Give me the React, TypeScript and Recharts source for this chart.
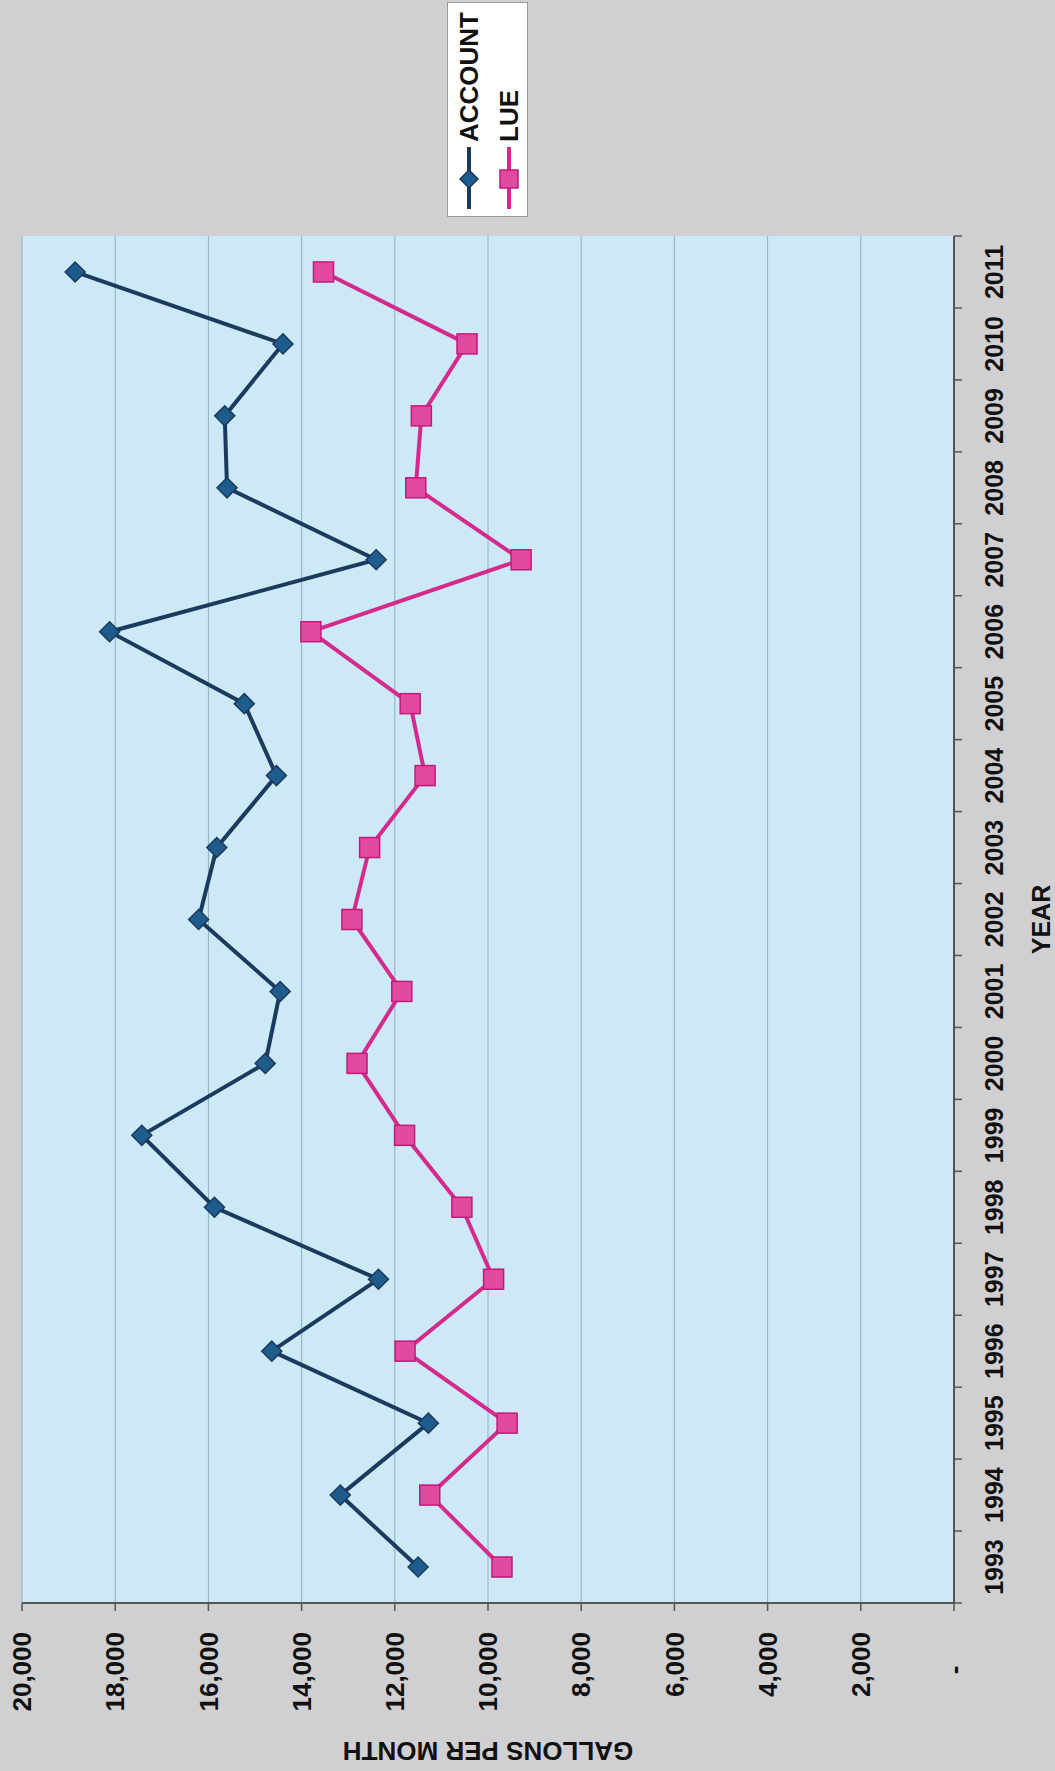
import React from 'react';
import { LineChart, Line, XAxis, YAxis, CartesianGrid, Label } from 'recharts';

// ---- data ----
const YEARS = ['1993','1994','1995','1996','1997','1998','1999','2000','2001','2002','2003','2004','2005','2006','2007','2008','2009','2010','2011'];
const ACCOUNT = [11500,13170,11280,14640,12350,15870,17430,14780,14460,16210,15820,14540,15230,18120,12400,15600,15650,14400,18860];
const LUE = [9700,11250,9590,11780,9880,10560,11790,12810,11850,12920,12540,11350,11670,13800,9290,11550,11430,10450,13530];
const Y_TICKS = [0,2000,4000,6000,8000,10000,12000,14000,16000,18000,20000];
const SERIES_NAMES = ['ACCOUNT', 'LUE'];
const X_TITLE = 'YEAR';
const Y_TITLE = 'GALLONS PER MONTH';

const data = YEARS.map((y, i) => ({ year: y, ACCOUNT: ACCOUNT[i], LUE: LUE[i] }));

// ---- layout (unrotated chart) ----
const W = 1771;
const H = 1055;
const MARGIN = { top: 22, right: 236, bottom: 0, left: 0 };
const Y_AXIS_W = 168;
const X_AXIS_H = H - MARGIN.top - 932;
const PLOT_W = W - MARGIN.right - MARGIN.left - Y_AXIS_W;
const STEP = PLOT_W / YEARS.length;
const FONT = "'Liberation Sans', Arial, Helvetica, sans-serif";

const NAVY = '#1b3a5e';
const NAVY_FILL = '#1f5c8e';
const PINK = '#d42a8e';
const PINK_FILL = '#e24a9f';
const AXIS = '#555';
const BG = '#d0d0d2';
const PLOT_BG = '#cde8f6';
const GRID = '#8fb0be';

const YearTick = (props: any) => {
  const { x, y, payload, index } = props;
  const last = index === YEARS.length - 1;
  return (
    <g>
      <line x1={x - STEP / 2} x2={x - STEP / 2} y1={y} y2={y + 8} stroke={AXIS} strokeWidth={1.5} />
      {last && <line x1={x + STEP / 2} x2={x + STEP / 2} y1={y} y2={y + 8} stroke={AXIS} strokeWidth={1.5} />}
      <text x={x} y={y + 31} dy="0.71em" textAnchor="middle" fontFamily={FONT} fontWeight="bold" fontSize={25} fill="#111">
        {payload.value}
      </text>
    </g>
  );
};

const ValueTick = (props: any) => {
  const { x, y, payload } = props;
  const v = payload.value;
  return (
    <g>
      <line x1={x - 8} x2={x} y1={y} y2={y} stroke={AXIS} strokeWidth={1.5} />
      {v === 0 ? (
        <text x={x - 67} y={y} dy="0.35em" textAnchor="middle" fontFamily={FONT} fontWeight="bold" fontSize={26} fill="#111">-</text>
      ) : (
        <text x={x - 29} y={y} dy="0.35em" textAnchor="end" fontFamily={FONT} fontWeight="bold" fontSize={26} fill="#111">
          {Number(v).toLocaleString('en-US')}
        </text>
      )}
    </g>
  );
};

const Diamond = (p: any) => {
  const { cx, cy, index } = p;
  if (cx == null || cy == null) return <g key={`a-${index}`} />;
  const r = 10;
  return (
    <polygon key={`a-${index}`} points={`${cx},${cy - r} ${cx + r},${cy} ${cx},${cy + r} ${cx - r},${cy}`}
      fill={NAVY_FILL} stroke={NAVY} strokeWidth={1.5} />
  );
};

const Square = (p: any) => {
  const { cx, cy, index } = p;
  if (cx == null || cy == null) return <g key={`l-${index}`} />;
  const r = 10;
  return <rect key={`l-${index}`} x={cx - r} y={cy - r} width={2 * r} height={2 * r} fill={PINK_FILL} stroke="#c01a7e" strokeWidth={1.5} />;
};

const XTitle = (props: any) => {
  const vb = props.viewBox || {};
  return (
    <text x={vb.x + vb.width / 2} y={vb.y + 96} textAnchor="middle" fontFamily={FONT} fontWeight="bold" fontSize={25} fill="#111">
      {X_TITLE}
    </text>
  );
};

const YTitle = (props: any) => {
  const vb = props.viewBox || {};
  const cx = 29;
  const cy = vb.y + vb.height / 2;
  return (
    <text x={cx} y={cy} transform={`rotate(-90 ${cx} ${cy})`} textAnchor="middle" fontFamily={FONT} fontWeight="bold" fontSize={26} fill="#111">
      {Y_TITLE}
    </text>
  );
};

const LegendBox = () => {
  const rows = [
    { name: SERIES_NAMES[0], color: NAVY, marker: 'diamond' },
    { name: SERIES_NAMES[1], color: PINK, marker: 'square' },
  ];
  return (
    <div style={{ position: 'absolute', left: 1554, top: 447, width: 215, height: 81, background: '#fff', border: '1px solid #9a9a9a', boxSizing: 'border-box' }}>
      {rows.map((r, i) => (
        <div key={r.name} style={{ position: 'absolute', left: 0, top: i === 0 ? 4 : 44, height: 34, width: 213, display: 'flex', alignItems: 'center' }}>
          <svg width={74} height={34} style={{ flex: 'none' }}>
            <line x1={7} x2={69} y1={17} y2={17} stroke={r.color} strokeWidth={4} />
            {r.marker === 'diamond' ? (
              <polygon points="37,8 46,17 37,26 28,17" fill={NAVY_FILL} stroke={NAVY} strokeWidth={1.5} />
            ) : (
              <rect x={28} y={8} width={18} height={18} fill={PINK_FILL} stroke="#c01a7e" strokeWidth={1.5} />
            )}
          </svg>
          <span style={{ fontFamily: FONT, fontWeight: 'bold', fontSize: 26, color: '#111', lineHeight: '34px' }}>{r.name}</span>
        </div>
      ))}
    </div>
  );
};

export default function App() {
  return (
    <div style={{ position: 'absolute', left: 0, top: 0, width: 1055, height: 1771, overflow: 'hidden', background: BG }}>
      <div style={{ position: 'absolute', left: 0, top: 0, width: W, height: H, transformOrigin: '0 0', transform: `translate(0px, ${W}px) rotate(-90deg)` }}>
        <LineChart width={W} height={H} data={data} margin={MARGIN}>
          <CartesianGrid vertical={false} stroke={GRID} strokeWidth={1} fill={PLOT_BG} fillOpacity={1} />
          <XAxis dataKey="year" type="category" interval={0} height={X_AXIS_H} padding={{ left: STEP / 2, right: STEP / 2 }}
            axisLine={{ stroke: AXIS, strokeWidth: 2 }} tickLine={false} tickSize={0} tickMargin={0} tick={<YearTick />}>
            <Label content={<XTitle />} />
          </XAxis>
          <YAxis type="number" domain={[0, 20000]} ticks={Y_TICKS} interval={0} width={Y_AXIS_W}
            axisLine={{ stroke: AXIS, strokeWidth: 2 }} tickLine={false} tickSize={0} tickMargin={0} tick={<ValueTick />}>
            <Label content={<YTitle />} />
          </YAxis>
          <Line dataKey="ACCOUNT" name={SERIES_NAMES[0]} stroke={NAVY} strokeWidth={4} dot={Diamond} activeDot={false} isAnimationActive={false} />
          <Line dataKey="LUE" name={SERIES_NAMES[1]} stroke={PINK} strokeWidth={4} dot={Square} activeDot={false} isAnimationActive={false} />
        </LineChart>
        <LegendBox />
      </div>
    </div>
  );
}
